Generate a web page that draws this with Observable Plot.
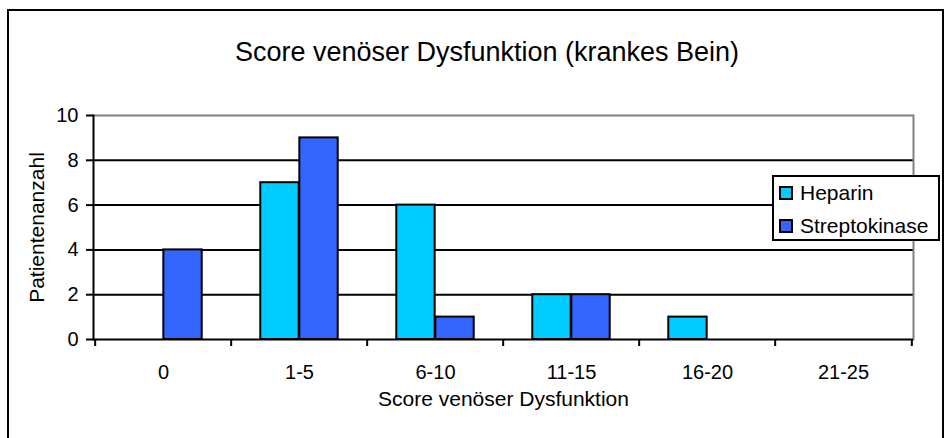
<!DOCTYPE html>
<html>
<head>
<meta charset="utf-8">
<script src="https://cdn.jsdelivr.net/npm/d3@7"></script>
<script src="https://cdn.jsdelivr.net/npm/@observablehq/plot@0.6"></script>
<style>
  html, body { margin: 0; padding: 0; background: #fff; }
  #wrap { position: relative; width: 952px; height: 438px; overflow: hidden; font-family: "Liberation Sans", Arial, sans-serif; color: #000; }
  #outer { position: absolute; left: 7px; top: 9px; width: 937px; height: 445px; border: 2px solid #000; box-sizing: border-box; }
  #title { position: absolute; left: 0; top: 39px; width: 974px; text-align: center; font-size: 27px; line-height: 27px; }
  #chart { position: absolute; left: 0; top: 0; }
  #legend { position: absolute; left: 772px; top: 175px; width: 168px; height: 66px; border: 2px solid #000; box-sizing: border-box; background: #fff; font-size: 21px; }
  .item { position: absolute; left: 5px; height: 24px; line-height: 24px; white-space: nowrap; }
  .sw { position: absolute; left: 0; top: 5px; width: 14px; height: 14px; border: 2px solid #000; box-sizing: border-box; }
  .lab { position: absolute; left: 21px; top: 0; }
</style>
</head>
<body>
<div id="wrap">
  <div id="outer"></div>
  <div id="chart"></div>
  <div id="title">Score venöser Dysfunktion (krankes Bein)</div>
  <div id="legend"></div>
</div>
<script>
const categories = ["0", "1-5", "6-10", "11-15", "16-20", "21-25"];
const seriesNames = ["Heparin", "Streptokinase"];
const heparin = [0, 7, 6, 2, 1, 0];
const streptokinase = [4, 9, 1, 2, 0, 0];
const yTicks = [0, 2, 4, 6, 8, 10];
const colors = ["#00CCFF", "#3366FF"];
const xTitle = "Score venöser Dysfunktion";
const yTitle = "Patientenanzahl";

const W = 952, H = 438;
const mL = 93, mR = 39, mT = 115, mB = 99;
const bw = (W - mL - mR) / categories.length;
const u = bw / 3.5; // bar width (gap width 150%)

const rows = [];
categories.forEach((c, i) => {
  rows.push({category: c, series: seriesNames[0], value: heparin[i]});
  rows.push({category: c, series: seriesNames[1], value: streptokinase[i]});
});
const hep = rows.filter(d => d.series === seriesNames[0] && d.value > 0);
const str = rows.filter(d => d.series === seriesNames[1] && d.value > 0);
const tickLen = 7 / ((H - mT - mB) / 10);

const chart = Plot.plot({
  width: W, height: H,
  marginLeft: mL, marginRight: mR, marginTop: mT, marginBottom: mB,
  style: {fontFamily: "'Liberation Sans', Arial, sans-serif", fontSize: "20px", background: "transparent", color: "#000", overflow: "visible"},
  x: {domain: categories, padding: 0, label: null, axis: null},
  y: {domain: [0, 10], label: null, axis: null},
  marks: [
    Plot.ruleY(yTicks.filter(v => v > 0 && v < 10), {stroke: "#000", strokeWidth: 2}),
    Plot.ruleY([10], {stroke: "#808080", strokeWidth: 2}),
    Plot.frame({anchor: "right", stroke: "#808080", strokeWidth: 2}),
    Plot.barY(hep, {x: "category", y: "value", fill: colors[0], stroke: "#000", strokeWidth: 2, insetLeft: u * 0.75, insetRight: u * 1.75}),
    Plot.barY(str, {x: "category", y: "value", fill: colors[1], stroke: "#000", strokeWidth: 2, insetLeft: u * 1.75, insetRight: u * 0.75}),
    Plot.ruleY([0], {stroke: "#000", strokeWidth: 2}),
    Plot.frame({anchor: "left", stroke: "#000", strokeWidth: 2}),
    Plot.axisY({ticks: yTicks, tickSize: 7, tickPadding: 8, stroke: "#000", strokeWidth: 2, fontSize: 20, label: null}),
    Plot.axisX({tickSize: 0, tickPadding: 25, fontSize: 20, label: null}),
    Plot.ruleX(categories, {x: d => d, dx: -bw / 2, y1: 0, y2: -tickLen, stroke: "#000", strokeWidth: 2, clip: false}),
    Plot.ruleX(categories.slice(-1), {x: d => d, dx: bw / 2, y1: 0, y2: -tickLen, stroke: "#000", strokeWidth: 2, clip: false}),
    Plot.text([xTitle], {frameAnchor: "bottom", dy: 66, text: d => d, fontSize: 21, fill: "#000"}),
    Plot.text([yTitle], {frameAnchor: "left", dx: -56, rotate: -90, textAnchor: "middle", text: d => d, fontSize: 21, fill: "#000"})
  ]
});
document.getElementById("chart").appendChild(chart);

const legend = document.getElementById("legend");
seriesNames.forEach((name, i) => {
  const item = document.createElement("div");
  item.className = "item";
  item.style.top = (i === 0 ? 4 : 37) + "px";
  const sw = document.createElement("div");
  sw.className = "sw";
  sw.style.background = colors[i];
  const lab = document.createElement("span");
  lab.className = "lab";
  lab.textContent = name;
  item.appendChild(sw);
  item.appendChild(lab);
  legend.appendChild(item);
});
</script>
</body>
</html>
